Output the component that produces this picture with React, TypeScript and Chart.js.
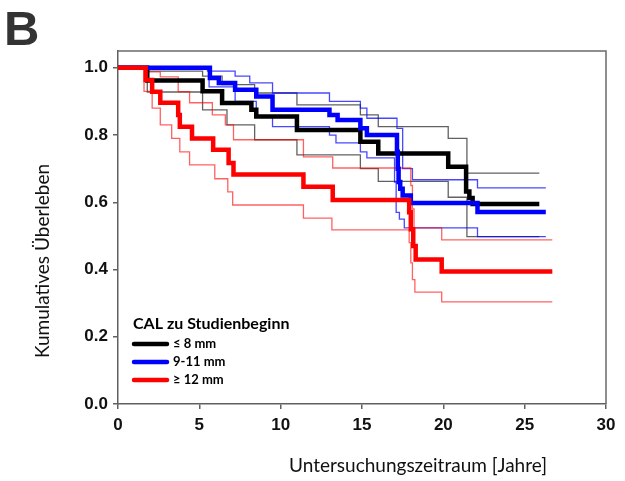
import React, { useEffect, useRef } from "react";
import { Chart, registerables } from "chart.js";

Chart.register(...registerables);

// ---- Axis ticks / labels ----
const xTickValues = [0, 5, 10, 15, 20, 25, 30];
const yTickValues = [0, 0.2, 0.4, 0.6, 0.8, 1.0];
const yTickLabels = ["0.0", "0.2", "0.4", "0.6", "0.8", "1.0"];
const xTitle = "Untersuchungszeitraum [Jahre]";
const yTitle = "Kumulatives Überleben";
const panelLetter = "B";
const legendTitle = "CAL zu Studienbeginn";
const groupLabels = ["≤ 8 mm", "9-11 mm", "≥ 12 mm"];

// ---- Group ≤ 8 mm (black) ----
const blackTimes = [0, 1.8, 5.2, 6.4, 8.2, 8.5, 11.0, 14.9, 16.0, 20.3, 21.4, 21.6, 21.8, 25.9];
const blackSurv = [1.0, 0.962, 0.93, 0.895, 0.875, 0.855, 0.815, 0.78, 0.745, 0.706, 0.632, 0.613, 0.595, 0.595];
const blackUpperTimes = [0, 1.8, 5.2, 6.4, 8.4, 11.0, 14.9, 16.0, 20.3, 21.45, 25.9];
const blackUpper = [1.0, 0.99, 0.975, 0.95, 0.925, 0.89, 0.86, 0.825, 0.79, 0.687, 0.687];
const blackLowerTimes = [0, 1.8, 5.2, 6.7, 8.4, 11.0, 14.9, 16.0, 20.3, 21.45, 25.9];
const blackLower = [1.0, 0.928, 0.875, 0.83, 0.786, 0.741, 0.70, 0.662, 0.615, 0.498, 0.498];

// ---- Group 9-11 mm (blue) ----
const blueTimes = [0, 5.65, 6.2, 7.2, 8.5, 9.5, 13.0, 13.5, 14.9, 15.3, 17.15, 17.2, 17.25, 17.35, 17.5, 18.0, 22.1, 26.3];
const blueSurv = [1.0, 0.97, 0.955, 0.935, 0.915, 0.875, 0.86, 0.845, 0.82, 0.80, 0.75, 0.70, 0.66, 0.64, 0.62, 0.598, 0.571, 0.571];
const blueUpperTimes = [0, 5.5, 7.2, 8.1, 9.5, 13.0, 14.9, 15.3, 17.15, 17.5, 18.1, 22.1, 26.3];
const blueUpper = [1.0, 0.99, 0.975, 0.955, 0.925, 0.90, 0.88, 0.85, 0.82, 0.70, 0.667, 0.643, 0.643];
const blueLowerTimes = [0, 5.6, 7.2, 8.5, 9.5, 13.0, 13.4, 14.9, 15.3, 17.0, 17.1, 17.3, 17.6, 22.1, 26.3];
const blueLower = [1.0, 0.943, 0.90, 0.855, 0.825, 0.80, 0.777, 0.75, 0.732, 0.66, 0.57, 0.55, 0.524, 0.498, 0.498];

// ---- Group ≥ 12 mm (red) ----
const redTimes = [0, 1.7, 2.1, 2.6, 3.7, 3.8, 4.55, 5.85, 6.8, 7.1, 11.4, 13.2, 17.9, 18.0, 18.15, 18.3, 19.9, 26.7];
const redSurv = [1.0, 0.964, 0.929, 0.896, 0.86, 0.825, 0.79, 0.756, 0.717, 0.683, 0.646, 0.607, 0.57, 0.52, 0.47, 0.43, 0.394, 0.394];
const redUpperTimes = [0, 1.8, 2.6, 3.7, 4.4, 5.8, 6.6, 7.1, 11.4, 13.2, 18.0, 18.1, 18.2, 19.9, 26.7];
const redUpper = [1.0, 0.988, 0.973, 0.929, 0.896, 0.86, 0.83, 0.786, 0.735, 0.702, 0.65, 0.58, 0.524, 0.488, 0.488];
const redLowerTimes = [0, 1.6, 2.1, 2.6, 3.3, 3.8, 4.4, 5.95, 6.75, 7.05, 11.4, 13.15, 17.9, 18.0, 18.1, 18.25, 19.9, 26.7];
const redLower = [1.0, 0.93, 0.88, 0.83, 0.79, 0.75, 0.711, 0.67, 0.631, 0.592, 0.553, 0.518, 0.48, 0.42, 0.37, 0.333, 0.304, 0.304];

const mainColors = ["#000000", "#0000ff", "#ff0000"];
const ciColors = ["rgba(0,0,0,0.62)", "rgba(0,0,255,0.72)", "rgba(255,0,0,0.62)"];

const pts = (t: number[], v: number[]) => t.map((x, i) => ({ x, y: v[i] }));

const TICK_FONT = '"Liberation Sans", Arial, sans-serif';
const TITLE_FONT = 'Lato, "Open Sans", sans-serif';

const decorPlugin = {
  id: "decor",
  afterDraw(chart: any) {
    const { ctx, chartArea } = chart;
    const { left, right, top, bottom } = chartArea;
    ctx.save();
    // top & right frame
    ctx.strokeStyle = "#6a6a6a";
    ctx.lineWidth = 1.5;
    ctx.beginPath();
    ctx.moveTo(left, top);
    ctx.lineTo(right, top);
    ctx.lineTo(right, bottom);
    ctx.stroke();

    // panel letter
    ctx.fillStyle = "#333333";
    ctx.font = `bold 49px ${TICK_FONT}`;
    ctx.textAlign = "left";
    ctx.textBaseline = "alphabetic";
    ctx.fillText(panelLetter, 4, 45);

    // axis titles
    ctx.fillStyle = "#111111";
    ctx.font = `19px ${TITLE_FONT}`;
    ctx.textAlign = "center";
    ctx.textBaseline = "middle";
    ctx.fillText(xTitle, 418, 466);
    ctx.save();
    ctx.translate(43, 261);
    ctx.rotate(-Math.PI / 2);
    ctx.fillText(yTitle, 0, 0);
    ctx.restore();

    // legend
    ctx.textAlign = "left";
    ctx.fillStyle = "#000000";
    ctx.font = `bold 16px ${TITLE_FONT}`;
    ctx.fillText(legendTitle, 133, 324);
    ctx.font = `bold 13px ${TITLE_FONT}`;
    groupLabels.forEach((lab, i) => {
      const y = 344 + i * 18;
      ctx.strokeStyle = mainColors[i];
      ctx.lineWidth = 4.5;
      ctx.lineCap = "round";
      ctx.beginPath();
      ctx.moveTo(134, y);
      ctx.lineTo(167, y);
      ctx.stroke();
      ctx.fillStyle = "#000000";
      ctx.fillText(lab, 173, y);
    });
    ctx.restore();
  },
};

export default function App() {
  const ref = useRef<HTMLCanvasElement | null>(null);
  useEffect(() => {
    if (!ref.current) return;
    const mainDs = (label: string, t: number[], v: number[], color: string) => ({
      label,
      data: pts(t, v),
      borderColor: color,
      borderWidth: 4.5,
      stepped: "before" as const,
      pointRadius: 0,
      fill: false,
      borderJoinStyle: "miter" as const,
    });
    const ciDs = (label: string, t: number[], v: number[], color: string) => ({
      label,
      data: pts(t, v),
      borderColor: color,
      borderWidth: 1.3,
      stepped: "before" as const,
      pointRadius: 0,
      fill: false,
    });
    const chart = new Chart(ref.current, {
      type: "line",
      data: {
        datasets: [
          mainDs(groupLabels[2], redTimes, redSurv, mainColors[2]),
          mainDs(groupLabels[1], blueTimes, blueSurv, mainColors[1]),
          mainDs(groupLabels[0], blackTimes, blackSurv, mainColors[0]),
          ciDs("red upper", redUpperTimes, redUpper, ciColors[2]),
          ciDs("red lower", redLowerTimes, redLower, ciColors[2]),
          ciDs("blue upper", blueUpperTimes, blueUpper, ciColors[1]),
          ciDs("blue lower", blueLowerTimes, blueLower, ciColors[1]),
          ciDs("black upper", blackUpperTimes, blackUpper, ciColors[0]),
          ciDs("black lower", blackLowerTimes, blackLower, ciColors[0]),
        ],
      },
      options: {
        responsive: false,
        animation: false,
        devicePixelRatio: 1,
        layout: { padding: { left: 0, right: 19, top: 51, bottom: 0 } },
        plugins: { legend: { display: false }, tooltip: { enabled: false } },
        scales: {
          x: {
            type: "linear",
            min: 0,
            max: 30,
            afterFit: (s: any) => {
              s.height = 77;
            },
            afterBuildTicks: (s: any) => {
              s.ticks = xTickValues.map((value) => ({ value }));
            },
            grid: { display: true, drawOnChartArea: false, drawTicks: true, tickLength: 5, color: "#606060", lineWidth: 1.5 },
            border: { display: true, color: "#606060", width: 1.5 },
            ticks: {
              color: "#111111",
              padding: 6,
              maxRotation: 0,
              font: { family: TICK_FONT, size: 17, weight: "bold" },
              callback: (v: any) => String(v),
            },
          },
          y: {
            type: "linear",
            min: 0,
            max: 1.05,
            afterFit: (s: any) => {
              s.width = 118;
            },
            afterBuildTicks: (s: any) => {
              s.ticks = yTickValues.map((value) => ({ value }));
            },
            grid: { display: true, drawOnChartArea: false, drawTicks: true, tickLength: 5, color: "#606060", lineWidth: 1.5 },
            border: { display: true, color: "#606060", width: 1.5 },
            ticks: {
              color: "#111111",
              padding: 5,
              font: { family: TICK_FONT, size: 17, weight: "bold" },
              callback: (v: any) => {
                const i = yTickValues.findIndex((t) => Math.abs(t - Number(v)) < 1e-9);
                return i >= 0 ? yTickLabels[i] : "";
              },
            },
          },
        },
      },
      plugins: [decorPlugin],
    });
    return () => chart.destroy();
  }, []);
  return (
    <div style={{ position: "absolute", left: 0, top: 0, width: 625, height: 481, background: "#fff" }}>
      <canvas ref={ref} width={625} height={481} style={{ width: 625, height: 481, display: "block" }} />
    </div>
  );
}
